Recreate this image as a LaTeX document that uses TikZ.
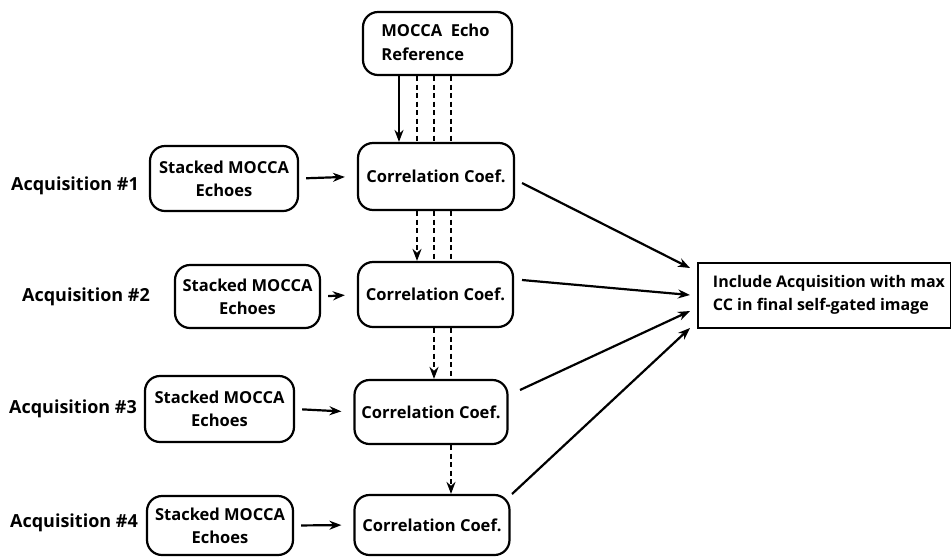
\documentclass[tikz,border=0pt]{standalone}
\usepackage{fontspec}
\setmainfont{Open Sans}
\usetikzlibrary{arrows.meta,calc}
\begin{document}
\begin{tikzpicture}[x=1pt,y=-1pt,
  box/.style={draw,line width=2.2pt,rounded corners=15pt,align=center,font=\bfseries\fontsize{16.5}{23}\selectfont,inner sep=0pt},
  plain/.style={draw,line width=2pt,align=left,font=\bfseries\fontsize{16}{23}\selectfont,inner sep=0pt},
  lab/.style={font=\bfseries\fontsize{18}{20}\selectfont},
  arr/.style={line width=2.2pt,-{Stealth[length=12pt,width=9pt]}},
  dsh/.style={line width=2.2pt,dash pattern=on 5pt off 3.5pt}]
\useasboundingbox (0,0) rectangle (951,558);
\node[box,minimum width=149pt,minimum height=63pt] (ref) at (437.5,43.5) {\begin{tabular}{@{}l@{}}MOCCA\ \ Echo\\[1pt]Reference\end{tabular}\hspace*{4pt}};
\node[box,minimum width=156pt,minimum height=67pt] (c1) at (436,176.5) {Correlation Coef.};
\node[box,minimum width=155pt,minimum height=65pt] (c2) at (435.5,294.5) {Correlation Coef.};
\node[box,minimum width=153pt,minimum height=64pt] (c3) at (431,412) {Correlation Coef.};
\node[box,minimum width=155pt,minimum height=60pt] (c4) at (432,525) {Correlation Coef.};
\node[box,minimum width=148pt,minimum height=65pt] (s1) at (224,178.5) {Stacked MOCCA\\Echoes};
\node[box,minimum width=145pt,minimum height=63pt] (s2) at (247.5,296.5) {Stacked MOCCA\\Echoes};
\node[box,minimum width=149pt,minimum height=66pt] (s3) at (219.5,409) {Stacked MOCCA\\Echoes};
\node[box,minimum width=146pt,minimum height=59pt] (s4) at (220,525.5) {Stacked MOCCA\\Echoes};
\node[lab] (a1) at (75,186) {Acquisition \#1};
\node[lab] (a2) at (86,297) {Acquisition \#2};
\node[lab] (a3) at (73,409) {Acquisition \#3};
\node[lab] (a4) at (74,523) {Acquisition \#4};
\node[plain,minimum width=253pt,minimum height=65pt] (rb) at (824,295) {\hspace*{10pt}Include Acquisition with max\\\hspace*{10pt}CC in final self-gated image};
% vertical guide coordinates
\coordinate (v1) at (399,0);
\coordinate (v2) at (417,0);
\coordinate (v3) at (434,0);
\coordinate (v4) at (451,0);
% ref -> c1
\draw[arr] (ref.south -| v1) -- (c1.north -| v1);
\draw[dsh] (ref.south -| v2) -- (c1.north -| v2);
\draw[dsh] (ref.south -| v3) -- (c1.north -| v3);
\draw[dsh] (ref.south -| v4) -- (c1.north -| v4);
% c1 -> c2
\draw[arr,dsh] (c1.south -| v2) -- (c2.north -| v2);
\draw[dsh] (c1.south -| v3) -- (c2.north -| v3);
\draw[dsh] (c1.south -| v4) -- (c2.north -| v4);
% c2 -> c3
\draw[arr,dsh] (c2.south -| v3) -- (c3.north -| v3);
\draw[dsh] (c2.south -| v4) -- (c3.north -| v4);
% c3 -> c4
\draw[arr,dsh] (c3.south -| v4) -- (c4.north -| v4);
% stacked -> corr
\draw[arr,shorten <=7pt,shorten >=12pt] (s1.east) -- (c1.west);
\draw[arr,shorten <=7pt,shorten >=12pt] (s2.east) -- (c2.west);
\draw[arr,shorten <=7pt,shorten >=12pt] (s3.east) -- (c3.west);
\draw[arr,shorten <=7pt,shorten >=12pt] (s4.east) -- (c4.west);
% to result box
\coordinate (e1) at (690,268);
\coordinate (e2) at (690,295);
\coordinate (e3) at (690,311);
\coordinate (e4) at (690,328);
\coordinate (b1) at (522,183);
\coordinate (b2) at (522,280);
\coordinate (b3) at (520,390);
\coordinate (b4) at (512,494);
\draw[arr] (b1) -- (e1);
\draw[arr] (b2) -- (e2);
\draw[arr] (b3) -- (e3);
\draw[arr] (b4) -- (e4);
\end{tikzpicture}
\end{document}
